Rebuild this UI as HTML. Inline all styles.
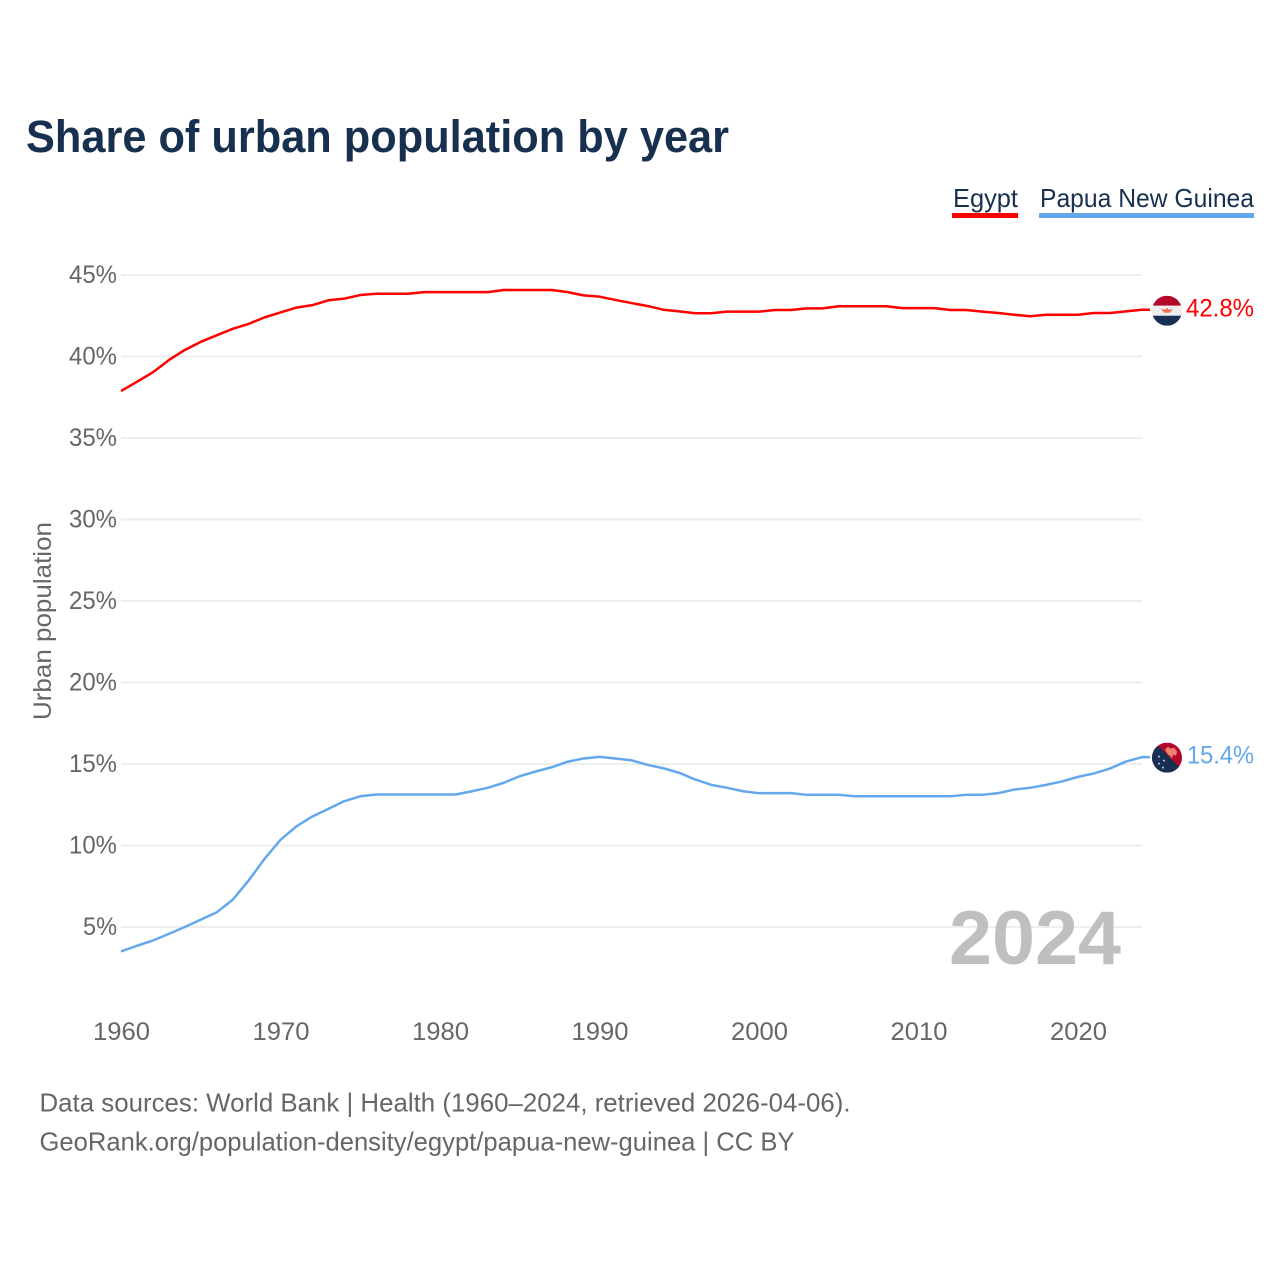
<!DOCTYPE html>
<html lang="en">
<head>
<meta charset="utf-8">
<title>Share of urban population by year</title>
<style>
html,body{margin:0;padding:0;background:#fff;}
svg{display:block;}
text{font-family:"Liberation Sans",sans-serif;}
</style>
</head>
<body>
<svg id="chart" xmlns="http://www.w3.org/2000/svg" width="1280" height="1280" viewBox="0 0 1280 1280">
  <defs>
    <clipPath id="clip-egypt"><circle cx="0" cy="0" r="15"></circle></clipPath>
    <clipPath id="clip-png"><circle cx="0" cy="0" r="15"></circle></clipPath>
  </defs>
  <rect width="1280" height="1280" fill="#ffffff"></rect>
  <text x="26" y="152" font-size="45" font-weight="700" fill="#18304f" textLength="703" lengthAdjust="spacingAndGlyphs">Share of urban population by year</text>

  <g>
    <g>
      <text x="953" y="207" font-size="26" fill="#18304f" textLength="65" lengthAdjust="spacingAndGlyphs">Egypt</text>
      <rect x="952" y="213" width="66" height="5" fill="#ff0000"></rect>
    </g>
    <g>
      <text x="1040" y="207" font-size="26" fill="#18304f" textLength="214" lengthAdjust="spacingAndGlyphs">Papua New Guinea</text>
      <rect x="1039" y="213" width="215" height="5" fill="#64a8ec"></rect>
    </g>
  </g>

  <g id="grid"></g>
  <g id="y-ticks"></g>
  <g id="x-ticks"></g>
  <text transform="translate(51,720) rotate(-90)" font-size="25" fill="#666666" textLength="198" lengthAdjust="spacingAndGlyphs">Urban population</text>

  <text x="949" y="964" font-size="76" font-weight="700" fill="#bfbfbf" textLength="172" lengthAdjust="spacingAndGlyphs">2024</text>

  <path id="line-egypt" fill="none" stroke="#ff0000" stroke-width="2.5" stroke-linejoin="round"></path>
  <path id="line-png" fill="none" stroke="#64a8ec" stroke-width="2.5" stroke-linejoin="round"></path>

  <g id="flag-egypt">
    <g clip-path="url(#clip-egypt)">
      <rect x="-15" y="-15" width="30" height="10" fill="#b4082b"></rect>
      <rect x="-15" y="-5" width="30" height="10" fill="#eeeeee"></rect>
      <rect x="-15" y="5" width="30" height="10" fill="#162f52"></rect>
      <path d="M-6,-2 L-2,-1 L0,-3 L2,-1 L6,-2 L3,2 L-3,2 Z" fill="#f0705e"></path>
    </g>
  </g>
  <g id="flag-png">
    <g clip-path="url(#clip-png)">
      <rect x="-15" y="-15" width="30" height="30" fill="#b4082b"></rect>
      <path d="M-15,-15 L-12,-15 L15,12 L15,15 L-15,15 Z" fill="#162f52"></path>
      <path d="M-2,-8 L1,-11 L3,-9 L7,-10 L10,-6 L9,-2 L6,-3 L5,1 L3,-2 L1,-3 Z" fill="#f0836f"></path>
      <circle cx="-8" cy="-1" r="1" fill="#cccccc"></circle>
      <circle cx="-3" cy="3" r="1" fill="#cccccc"></circle>
      <circle cx="-8" cy="6" r="1" fill="#cccccc"></circle>
      <circle cx="-4" cy="10" r="1" fill="#cccccc"></circle>
    </g>
  </g>
  <text id="value-egypt" x="1186" font-size="25" fill="#ff0000" textLength="68" lengthAdjust="spacingAndGlyphs"></text>
  <text id="value-png" x="1187" font-size="25" fill="#64a8ec" textLength="67" lengthAdjust="spacingAndGlyphs"></text>

  <text x="39.5" y="1111.5" font-size="26" fill="#666666" textLength="811" lengthAdjust="spacingAndGlyphs">Data sources: World Bank | Health (1960–2024, retrieved 2026-04-06).</text>
  <text x="39.5" y="1150.5" font-size="26" fill="#666666" textLength="755" lengthAdjust="spacingAndGlyphs">GeoRank.org/population-density/egypt/papua-new-guinea | CC BY</text>
</svg>
<script>
const firstYear = 1960;
const xTickYears = [1960, 1970, 1980, 1990, 2000, 2010, 2020];
const yTickValues = [5, 10, 15, 20, 25, 30, 35, 40, 45];
const egyptValues = [37.88,38.45,39.03,39.78,40.4,40.9,41.3,41.7,42.0,42.4,42.7,43.0,43.15,43.45,43.55,43.77,43.85,43.85,43.85,43.95,43.95,43.95,43.95,43.95,44.08,44.08,44.08,44.08,43.95,43.75,43.67,43.47,43.28,43.1,42.87,42.77,42.65,42.65,42.75,42.75,42.75,42.85,42.85,42.95,42.95,43.08,43.08,43.08,43.08,42.97,42.97,42.97,42.85,42.85,42.75,42.67,42.56,42.47,42.56,42.56,42.56,42.67,42.67,42.77,42.87];
const pngValues = [3.5,3.85,4.17,4.58,5.0,5.45,5.9,6.67,7.85,9.18,10.35,11.18,11.78,12.25,12.72,13.02,13.13,13.13,13.13,13.13,13.13,13.13,13.33,13.54,13.85,14.25,14.54,14.8,15.14,15.34,15.44,15.34,15.23,14.95,14.74,14.46,14.05,13.72,13.54,13.33,13.21,13.21,13.21,13.11,13.11,13.11,13.02,13.02,13.02,13.02,13.02,13.02,13.02,13.11,13.11,13.21,13.43,13.54,13.72,13.93,14.21,14.42,14.72,15.15,15.42];
const egyptLabel = "42.8%";
const pngLabel = "15.4%";

const svgNS = "http://www.w3.org/2000/svg";
function xScale(year) { return 121 + (year - 1960) * 15.95; }
function yScale(value) { return 927 - (value - 5) * 16.3; }

const grid = document.getElementById("grid");
const yTicks = document.getElementById("y-ticks");
const xTicks = document.getElementById("x-ticks");

yTickValues.forEach(function (v) {
  const line = document.createElementNS(svgNS, "line");
  
  
  line.setAttribute("x1", 121);
  line.setAttribute("x2", 1142);
  line.setAttribute("y1", yScale(v));
  line.setAttribute("y2", yScale(v));
  line.setAttribute("stroke", "#eeeeee");
  line.setAttribute("stroke-width", 2);
  grid.appendChild(line);

  const label = document.createElementNS(svgNS, "text");
  
  
  const width = v < 10 ? 34 : 48;
  label.setAttribute("x", 117 - width);
  label.setAttribute("y", yScale(v) + 8);
  label.setAttribute("font-size", 25);
  label.setAttribute("fill", "#666666");
  label.setAttribute("textLength", width);
  label.setAttribute("lengthAdjust", "spacingAndGlyphs");
  label.textContent = v + "%";
  yTicks.appendChild(label);
});

xTickYears.forEach(function (year) {
  const label = document.createElementNS(svgNS, "text");
  
  
  label.setAttribute("x", xScale(year) - 28);
  label.setAttribute("y", 1040);
  label.setAttribute("font-size", 25);
  label.setAttribute("fill", "#666666");
  label.setAttribute("textLength", 57);
  label.setAttribute("lengthAdjust", "spacingAndGlyphs");
  label.textContent = year;
  xTicks.appendChild(label);
});

function linePath(values) {
  let d = "";
  values.forEach(function (v, i) {
    d += (i === 0 ? "M" : "L") + xScale(firstYear + i).toFixed(2) + "," + yScale(v).toFixed(2);
  });
  d += "L1150," + yScale(values[values.length - 1]).toFixed(2);
  return d;
}

document.getElementById("line-egypt").setAttribute("d", linePath(egyptValues));
document.getElementById("line-png").setAttribute("d", linePath(pngValues));

const egyptEnd = yScale(egyptValues[egyptValues.length - 1]);
const pngEnd = yScale(pngValues[pngValues.length - 1]);
document.getElementById("flag-egypt").setAttribute("transform", "translate(1167," + (egyptEnd + 1) + ")");
document.getElementById("flag-png").setAttribute("transform", "translate(1167," + (pngEnd + 0.5) + ")");
const egyptText = document.getElementById("value-egypt");
egyptText.setAttribute("y", egyptEnd + 7);
egyptText.textContent = egyptLabel;
const pngText = document.getElementById("value-png");
pngText.setAttribute("y", pngEnd + 6.5);
pngText.textContent = pngLabel;
</script>
</body>
</html>
